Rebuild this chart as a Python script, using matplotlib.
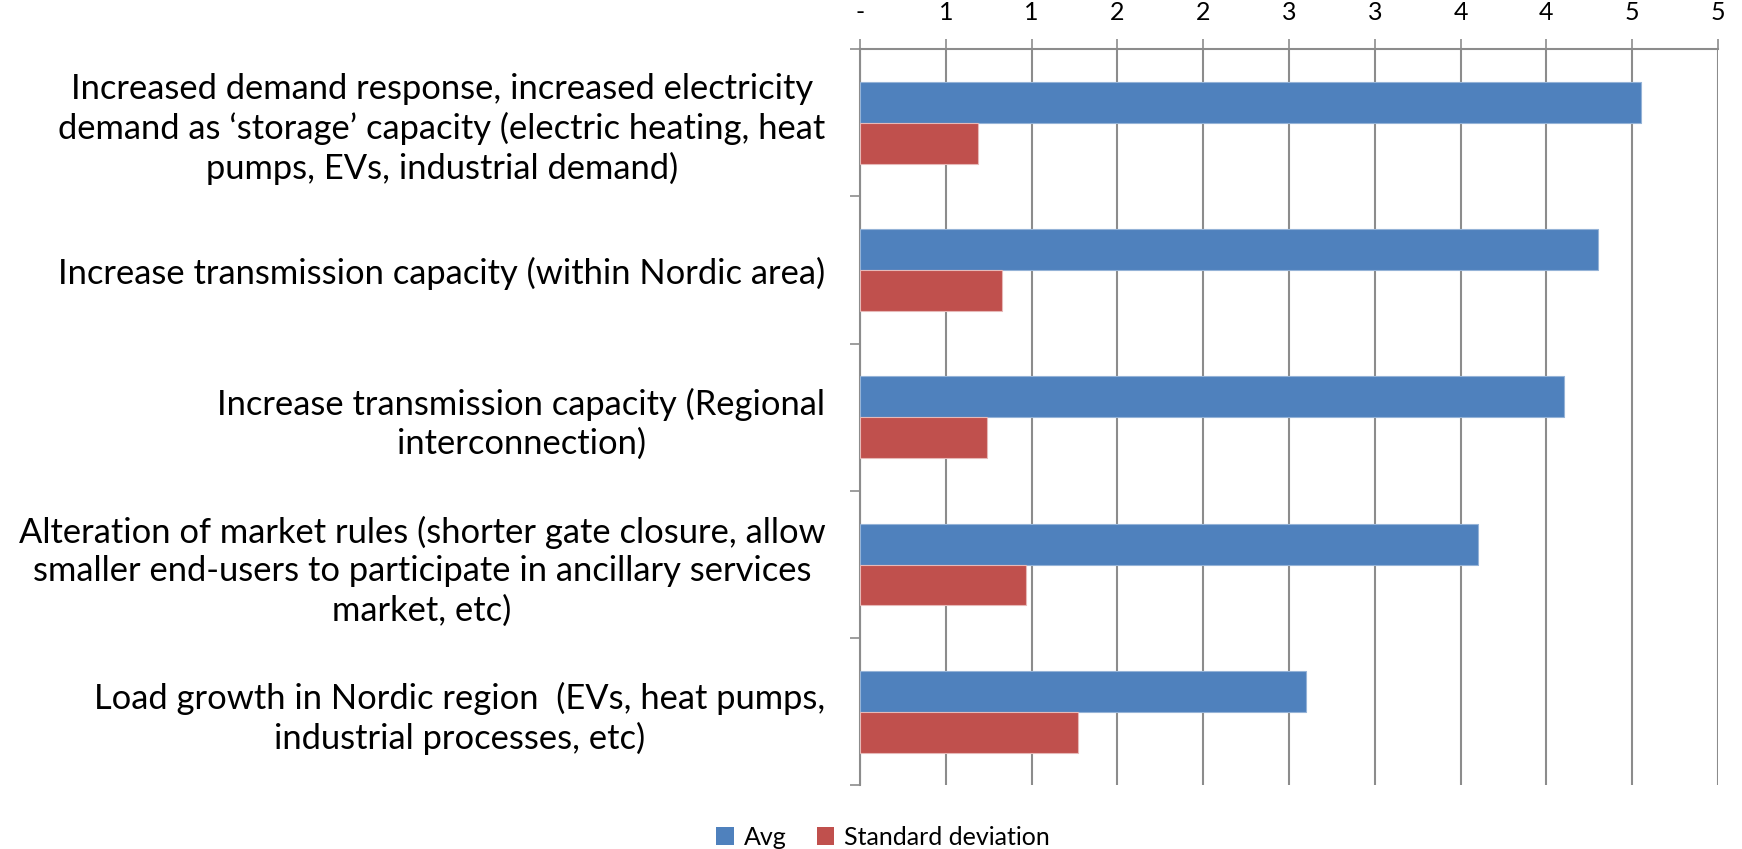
import numpy as np
import matplotlib.pyplot as plt
from matplotlib.patches import Patch

plt.rcParams['font.family'] = ['Lato', 'DejaVu Sans']

categories = [
    'Increased demand response, increased electricity\n'
    'demand as \u2018storage\u2019 capacity (electric heating, heat\n'
    'pumps, EVs, industrial demand)',
    'Increase transmission capacity (within Nordic area)',
    'Increase transmission capacity (Regional\ninterconnection)',
    'Alteration of market rules (shorter gate closure, allow\n'
    'smaller end-users to participate in ancillary services\n'
    'market, etc)',
    'Load growth in Nordic region  (EVs, heat pumps,\n'
    'industrial processes, etc)',
]
avg = [4.55, 4.30, 4.10, 3.60, 2.60]
std = [0.69, 0.83, 0.74, 0.97, 1.27]
xticks = [0, 0.5, 1.0, 1.5, 2.0, 2.5, 3.0, 3.5, 4.0, 4.5, 5.0]
xticklabels = ['-', '1', '1', '2', '2', '3', '3', '4', '4', '5', '5']

blue = '#4F81BD'
red = '#C0504D'
gray = '#8C8C8C'

fig = plt.figure(figsize=(17.42, 8.49), dpi=100, facecolor='white')
ax = fig.add_axes([0.4937, 0.0748, 0.4925, 0.8675])

y = np.arange(len(categories))
h = 0.278
ax.barh(y - h / 2, avg, height=h, color=blue, edgecolor='#95B3D7', linewidth=0.8, zorder=3)
ax.barh(y + h / 2, std, height=h, color=red, edgecolor='#E6B9B8', linewidth=0.8, zorder=3)

ax.set_xlim(0, 5)
ax.set_ylim(len(categories) - 0.5, -0.5)

ax.xaxis.tick_top()
ax.set_xticks(xticks)
ax.set_xticklabels(xticklabels, fontsize=18)
ax.tick_params(axis='x', direction='out', length=7, width=1.2, color=gray, pad=11)
ax.grid(axis='x', color=gray, linewidth=1.5, zorder=0)

# category boundaries as major ticks, labels on minor ticks at centres
ax.set_yticks(np.arange(len(categories) + 1) - 0.5)
ax.set_yticklabels([])
ax.tick_params(axis='y', which='major', direction='out', length=7, width=1.2, color=gray)
ax.set_yticks(y, minor=True)
ax.set_yticklabels(categories, minor=True, fontsize=24.8, multialignment='center',
                   linespacing=1.26)
ax.tick_params(axis='y', which='minor', length=0, pad=25)

for s in ['right', 'bottom']:
    ax.spines[s].set_visible(False)
for s in ['left', 'top']:
    ax.spines[s].set_color(gray)
    ax.spines[s].set_linewidth(1.5)

handles = [Patch(facecolor=blue, label='Avg'), Patch(facecolor=red, label='Standard deviation')]
fig.legend(handles=handles, loc='lower center', bbox_to_anchor=(0.507, -0.026), ncol=2,
           frameon=False, fontsize=18, handlelength=0.7, handleheight=0.7,
           handletextpad=0.4, columnspacing=1.2)

plt.savefig('out.png', dpi=100)
